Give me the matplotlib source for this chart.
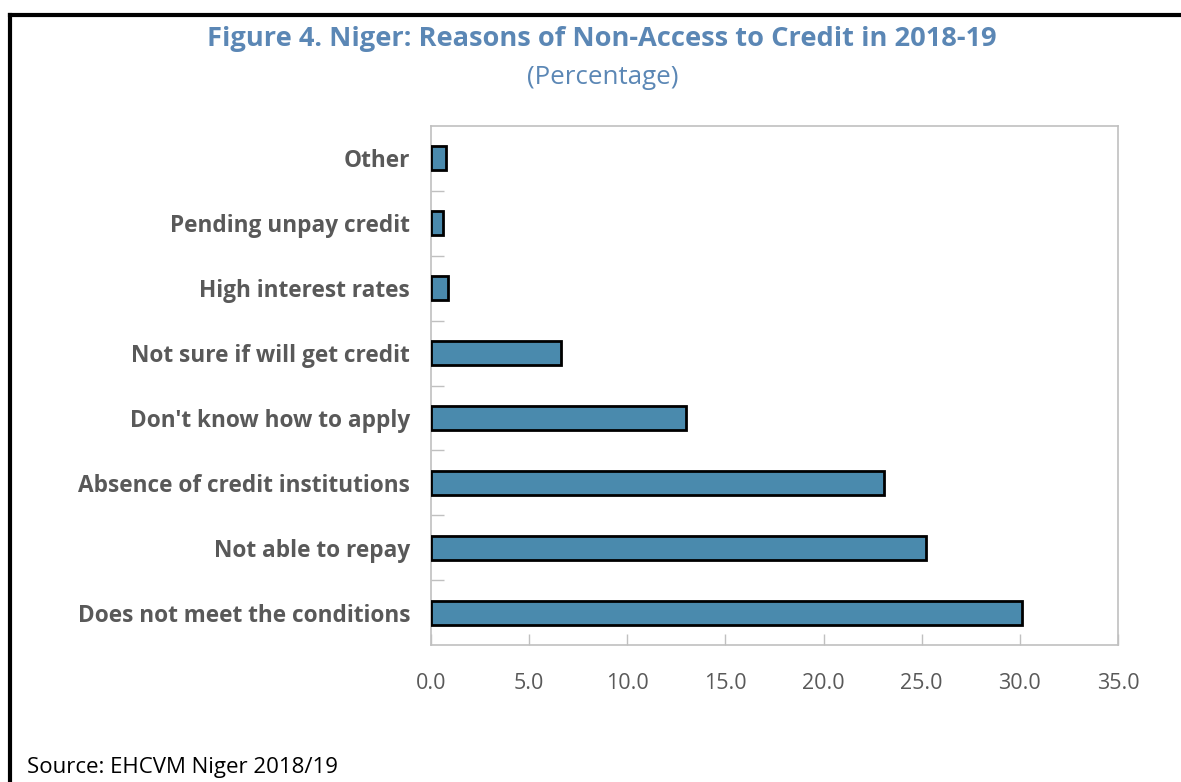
import matplotlib
matplotlib.use("Agg")
import matplotlib.pyplot as plt
from matplotlib.lines import Line2D

# ------------------ Data ------------------

reasons = [
    "Does not meet the conditions",
    "Not able to repay",
    "Absence of credit institutions",
    "Don't know how to apply",
    "Not sure if will get credit",
    "High interest rates",
    "Pending unpay credit",
    "Other",
]
shares = [30.1, 25.2, 23.1, 13.0, 6.6, 0.85, 0.6, 0.75]
x_ticks = [0, 5, 10, 15, 20, 25, 30, 35]

title = "Figure 4. Niger: Reasons of Non-Access to Credit in 2018-19"
subtitle = "(Percentage)"
source = "Source: EHCVM Niger 2018/19"

# ------------------ Style ------------------

title_color = "#5b87b5"
bar_color = "#4a8aad"
label_color = "#595959"
spine_color = "#c0c0c0"

plt.rcParams["font.family"] = ["Open Sans", "DejaVu Sans"]

W, H = 1181, 782
fig = plt.figure(figsize=(W / 100, H / 100), dpi=100)
fig.patch.set_facecolor("white")

# axes box in pixels: left 431, right 1118, top 126, bottom 645
ax = fig.add_axes([431 / W, 1 - 645 / H, (1118 - 431) / W, (645 - 126) / H])

ypos = list(range(len(reasons)))
ax.barh(ypos, shares, height=0.37, color=bar_color,
        edgecolor="black", linewidth=2, zorder=3)

ax.set_xlim(0, 35)
ax.set_ylim(-0.5, len(reasons) - 0.5)

ax.set_xticks(x_ticks)
ax.set_xticklabels(["{:.1f}".format(v) for v in x_ticks],
                   fontsize=15.5, color=label_color)
ax.tick_params(axis="x", direction="in", length=8, color=spine_color,
               width=1, pad=20)

ax.set_yticks(ypos)
ax.set_yticklabels(reasons, fontsize=16.3, fontweight="bold", color=label_color)
ax.tick_params(axis="y", which="major", length=0, pad=15)
ax.set_yticks([y + 0.5 for y in ypos[:-1]], minor=True)
ax.tick_params(axis="y", which="minor", direction="in", length=9,
               color=spine_color, width=1)

for s in ax.spines.values():
    s.set_color(spine_color)
    s.set_linewidth(1.2)

# titles and source
fig.text(602 / W, 1 - 39 / H, title, ha="center", va="center",
         fontsize=19.6, fontweight="bold", color=title_color)
fig.text(603 / W, 1 - 77 / H, subtitle, ha="center", va="center",
         fontsize=18.6, color=title_color)
fig.text(27 / W, 1 - 768 / H, source, ha="left", va="center",
         fontsize=16, color="black")

# black frame (top and left edges visible)
fig.add_artist(Line2D([10 / W, 1.0], [1 - 14.5 / H, 1 - 14.5 / H],
                      transform=fig.transFigure, color="black", linewidth=3,
                      solid_capstyle="projecting"))
fig.add_artist(Line2D([10 / W, 10 / W], [1 - 14.5 / H, 0.0],
                      transform=fig.transFigure, color="black", linewidth=3,
                      solid_capstyle="projecting"))

fig.savefig("out.png", dpi=100, facecolor=fig.get_facecolor())
